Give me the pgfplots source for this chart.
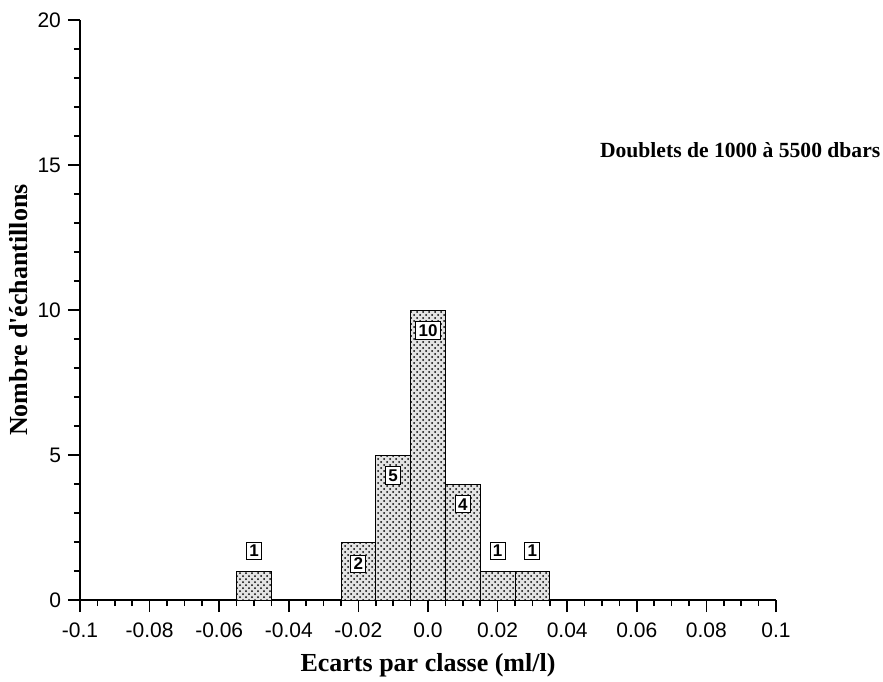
\documentclass[border=0pt]{standalone}
\usepackage{fontspec}
\setmainfont{Liberation Sans}
\newfontfamily\timesfont{Liberation Serif}
\usepackage{pgfplots}
\pgfplotsset{compat=1.18}
\usetikzlibrary{patterns}

\begin{document}
\begin{tikzpicture}
\begin{axis}[
  scale only axis, width=348pt, height=290pt,
  xmin=-0.1, xmax=0.1, ymin=0, ymax=20,
  axis lines=left,
  axis line style={-, line width=1pt},
  xtick={-0.1,-0.08,-0.06,-0.04,-0.02,0,0.02,0.04,0.06,0.08,0.1},
  xticklabels={-0.1,-0.08,-0.06,-0.04,-0.02,0.0,0.02,0.04,0.06,0.08,0.1},
  minor x tick num=3,
  ytick={0,5,10,15,20},
  minor y tick num=4,
  tick align=outside,
  major tick length=6pt, minor tick length=3pt,
  every tick/.style={black, line width=0.8pt},
  tick label style={font=\fontsize{10.5}{12}\selectfont},
  xticklabel style={yshift=-2pt},
  /pgf/number format/assume math mode=true,
  xlabel={Ecarts par classe (ml/l)},
  ylabel={Nombre d'échantillons},
  xlabel style={yshift=-1pt},
  ylabel style={yshift=-2pt},
  label style={font=\timesfont\bfseries\fontsize{13}{15}\selectfont},
  clip=false,
]
% histogram of the deviations, one class every 0.01 ml/l
\addplot[ybar, bar width=0.01, draw=black, line width=0.5pt,
  fill=gray!22, postaction={pattern=crosshatch dots, pattern color=black}]
  coordinates {(-0.05,1) (-0.02,2) (-0.01,5) (0,10) (0.01,4) (0.02,1) (0.03,1)};

% boxed counts
\tikzset{count/.style={draw, fill=white, inner sep=1.4pt, line width=0.5pt,
  font=\bfseries\fontsize{8.5}{9}\selectfont}}
\node[count] at (axis cs:-0.05,1.7) {1};
\node[count] at (axis cs:-0.02,1.25) {2};
\node[count] at (axis cs:-0.01,4.3) {5};
\node[count] at (axis cs:0,9.3) {10};
\node[count] at (axis cs:0.01,3.3) {4};
\node[count] at (axis cs:0.02,1.7) {1};
\node[count] at (axis cs:0.03,1.7) {1};

\node[anchor=east, font=\timesfont\bfseries\fontsize{10.8}{12}\selectfont]
  at (rel axis cs:1.16,0.776) {Doublets de 1000 à 5500 dbars};
\end{axis}
\pgfresetboundingbox
\path[use as bounding box] ([shift={(-40pt,-40.5pt)}]current axis.south west)
  rectangle ([shift={(401.5pt,300pt)}]current axis.south west);
\end{tikzpicture}
\end{document}
